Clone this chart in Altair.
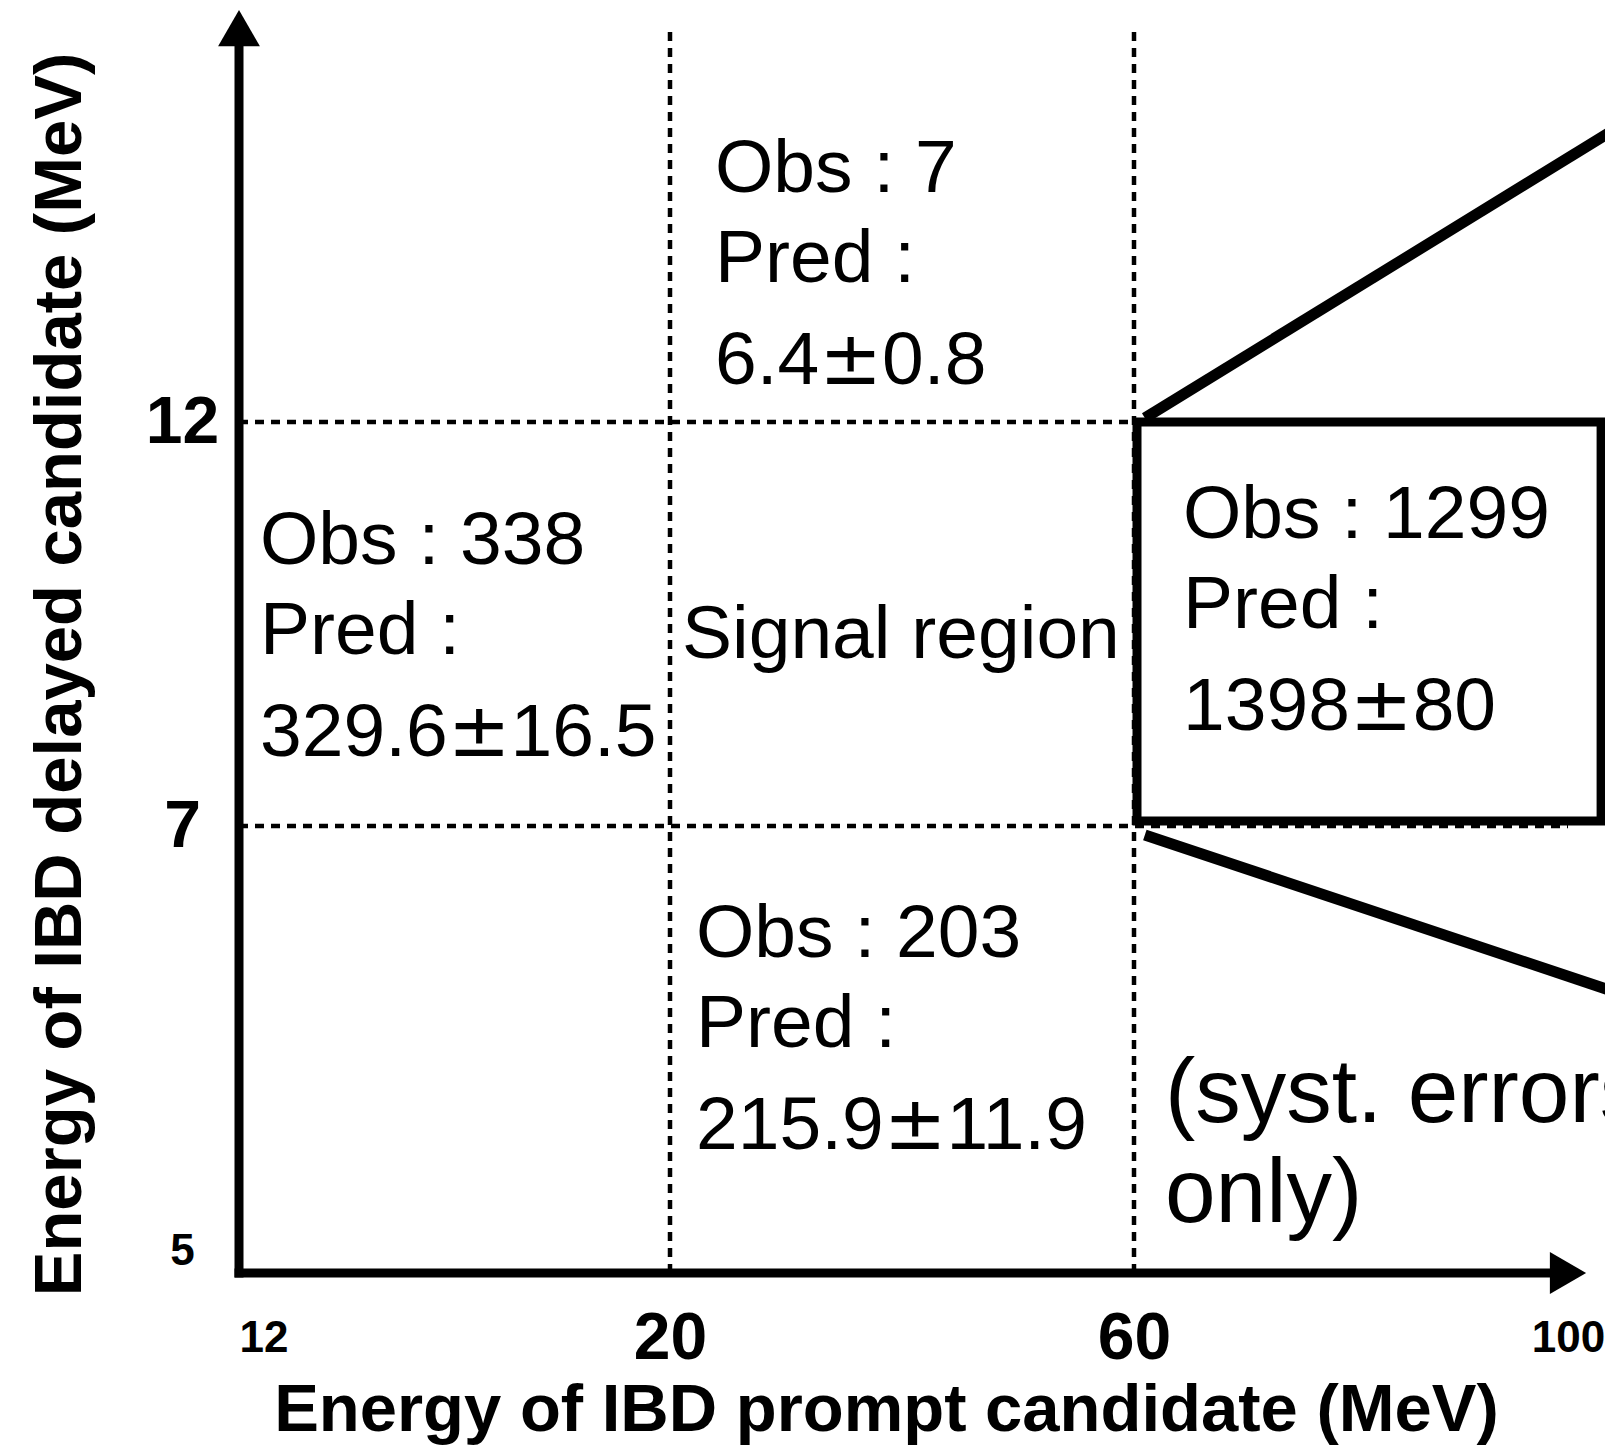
import altair as alt
import pandas as pd

# ---------------- data ----------------
x_ticks = [12, 20, 60, 100]          # prompt energy tick values (MeV)
y_ticks = [5, 7, 12]                 # delayed energy tick values (MeV)
x_cuts = [20, 60]                    # vertical selection cuts
y_cuts = [12, 7]                     # horizontal selection cuts

# sideband / signal region results
cell_x = [20, 12, 20, 60]            # left edge of each cell (MeV)
cell_y = [12, 12, 7, 12]             # reference edge of each cell (MeV)
obs = [7, 338, 203, 1299]
pred = ["6.4", "329.6", "215.9", "1398"]
err = ["0.8", "16.5", "11.9", "80"]

# text placement (pixels) relative to the cell anchor
cell_dx = [45, 21, 26, 49]
cell_dy = [-230, 142, 131, 116]
line_gap = [0, 90, 192]

X_DOMAIN = [12, 20, 60, 100]
X_RANGE = [0, 431, 895, 1329]
Y_DOMAIN = [5, 7, 12, 17.07]
Y_RANGE = [1261, 814, 410, 0]

x_arrow = 100.0
y_arrow = 16.87
grid_top = 16.9
box_x = [60, 103.05]
box_y = [12, 7]
conn_x = [61, 104.8]
conn_upper_y = [12.05, 15.66]
conn_lower_y = [6.96, 6.25]

FONT = "Liberation Sans"
PM_FONT = "DejaVu Sans"
FS = 75
# advance widths (em) of Liberation Sans glyphs used in the numbers, and of the DejaVu plus-minus
ADV = {"0": 0.556, "1": 0.556, "2": 0.556, "3": 0.556, "4": 0.556, "5": 0.556,
       "6": 0.556, "7": 0.556, "8": 0.556, "9": 0.556, ".": 0.278}
PM_ADV = 0.838


def text_w(s):
    return sum(ADV.get(c, 0.556) for c in s) * FS


xs = alt.Scale(domain=X_DOMAIN, range=X_RANGE, nice=False, zero=False)
ys = alt.Scale(domain=Y_DOMAIN, range=Y_RANGE, nice=False, zero=False)

x_axis = alt.Axis(
    values=x_ticks, domain=False, ticks=False, grid=False, tickSize=0,
    labelFlush=False, labelOverlap=False, labelBound=False,
    labelFont=FONT, labelFontWeight="bold", labelColor="black",
    labelFontSize={"condition": {"test": "datum.value == 20 || datum.value == 60", "value": 66}, "value": 44},
    labelAlign={"condition": {"test": "datum.value == 12", "value": "left"}, "value": "center"},
    labelBaseline="middle", labelPadding=65,
    title="Energy of IBD prompt candidate (MeV)",
    titleFont=FONT, titleFontWeight="bold", titleFontSize=67, titleColor="black",
    titleX=647, titleY=157, titleAlign="center", titleBaseline="alphabetic",
)
y_axis = alt.Axis(
    values=y_ticks, domain=False, ticks=False, grid=False, tickSize=0,
    labelFlush=False, labelOverlap=False, labelBound=False,
    labelFont=FONT, labelFontWeight="bold", labelColor="black",
    labelFontSize={"condition": {"test": "datum.value == 7 || datum.value == 12", "value": 66}, "value": 44},
    labelBaseline={"condition": {"test": "datum.value == 5", "value": "bottom"}, "value": "middle"},
    labelAlign="center", labelPadding=57,
    title="Energy of IBD delayed candidate (MeV)",
    titleFont=FONT, titleFontWeight="bold", titleFontSize=67, titleColor="black",
    titleX=-159, titleY=662, titleAlign="center", titleBaseline="alphabetic", titleAngle=270,
)


def X(f="x"):
    return alt.X(f + ":Q", scale=xs, axis=x_axis)


def Y(f="y"):
    return alt.Y(f + ":Q", scale=ys, axis=y_axis)


layers = []

# dashed cut lines
vdf = pd.DataFrame({"x": x_cuts, "y": [y_ticks[0]] * 2, "y2": [grid_top] * 2})
layers.append(
    alt.Chart(vdf).mark_rule(color="black", strokeWidth=4.5, strokeDash=[9, 7]).encode(
        x=X(), y=Y(), y2="y2:Q"
    )
)
hdf = pd.DataFrame({"y": y_cuts, "x": [x_ticks[0]] * 2, "x2": [60, 100]})
layers.append(
    alt.Chart(hdf).mark_rule(color="black", strokeWidth=4.5, strokeDash=[9, 7]).encode(
        y=Y(), x=X(), x2="x2:Q"
    )
)

# signal-side box
bdf = pd.DataFrame({"x": [box_x[0]], "x2": [box_x[1]], "y": [box_y[0]], "y2": [box_y[1]]})
layers.append(
    alt.Chart(bdf).mark_rect(fill="white", fillOpacity=0, stroke="black", strokeWidth=9,
                             xOffset=3, y2Offset=-5).encode(
        x=X(), x2="x2:Q", y=Y(), y2="y2:Q"
    )
)

# zoom connector lines
cdf = pd.DataFrame({
    "x": [conn_x[0]] * 2, "x2": [conn_x[1]] * 2,
    "y": [conn_upper_y[0], conn_lower_y[0]], "y2": [conn_upper_y[1], conn_lower_y[1]],
})
layers.append(
    alt.Chart(cdf).mark_rule(color="black", strokeWidth=11).encode(
        x=X(), x2="x2:Q", y=Y(), y2="y2:Q"
    )
)

# axis lines with arrow heads
xa = pd.DataFrame({"x": [x_ticks[0]], "x2": [x_arrow], "y": [y_ticks[0]]})
layers.append(
    alt.Chart(xa).mark_rule(color="black", strokeWidth=9, strokeCap="square").encode(
        x=X(), x2="x2:Q", y=Y()
    )
)
ya = pd.DataFrame({"x": [x_ticks[0]], "y": [y_ticks[0]], "y2": [y_arrow]})
layers.append(
    alt.Chart(ya).mark_rule(color="black", strokeWidth=9, strokeCap="square").encode(
        x=X(), y=Y(), y2="y2:Q"
    )
)
layers.append(
    alt.Chart(pd.DataFrame({"x": [x_arrow], "y": [y_ticks[0]]})).mark_point(
        shape="triangle-right", filled=True, color="black", opacity=1, size=1750
    ).encode(x=X(), y=Y())
)
layers.append(
    alt.Chart(pd.DataFrame({"x": [x_ticks[0]], "y": [y_arrow]})).mark_point(
        shape="triangle-up", filled=True, color="black", opacity=1, size=1750
    ).encode(x=X(), y=Y())
)


def txt(x, y, t, dx, dy, font=FONT, size=FS):
    df = pd.DataFrame({"x": [x], "y": [y], "t": [t]})
    return alt.Chart(df).mark_text(
        align="left", baseline="alphabetic", font=font, fontSize=size,
        color="black", dx=dx, dy=dy
    ).encode(x=X(), y=Y(), text="t:N")


# cell annotations
for i in range(len(obs)):
    dx0 = cell_dx[i]
    layers.append(txt(cell_x[i], cell_y[i], f"Obs : {obs[i]}", dx0, cell_dy[i] + line_gap[0]))
    layers.append(txt(cell_x[i], cell_y[i], "Pred :", dx0, cell_dy[i] + line_gap[1]))
    dy3 = cell_dy[i] + line_gap[2]
    wp = text_w(pred[i])
    layers.append(txt(cell_x[i], cell_y[i], pred[i], dx0, dy3))
    layers.append(txt(cell_x[i], cell_y[i], "\u00b1", dx0 + wp, dy3, font=PM_FONT))
    layers.append(txt(cell_x[i], cell_y[i], err[i], dx0 + wp + PM_ADV * FS, dy3))

layers.append(txt(20, 12, "Signal region", 12, 236))
note_lines = ["(syst. errors", "only)"]
for j, t in enumerate(note_lines):
    layers.append(txt(60, 7, t, 31, 296 + 100 * j, size=91))

chart = alt.layer(*layers).properties(
    width=1345, height=1261,
    autosize=alt.AutoSizeParams(type="none"),
    padding={"left": 231, "top": 4, "right": 21, "bottom": 174},
    background="white",
).configure_view(stroke=None)

chart.save("out.html", embed_options={"renderer": "svg", "actions": False})
